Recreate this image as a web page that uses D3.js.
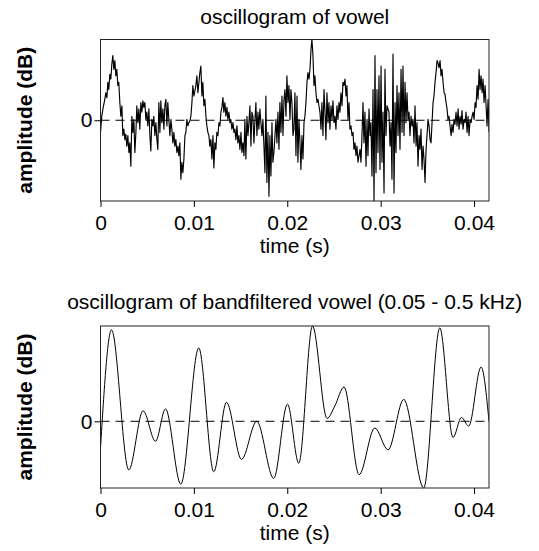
<!DOCTYPE html>
<html><head><meta charset="utf-8">
<script src="https://cdn.jsdelivr.net/npm/d3@7"></script>
<style>
html,body{margin:0;padding:0;background:#fff;}
svg{display:block;font-family:"Liberation Sans",Arial,sans-serif;}
</style></head><body>
<svg id="chart" width="539" height="551"></svg>
<script>
// ---------- data ----------
const xTicks = [0, 0.01, 0.02, 0.03, 0.04];
const xTickLabels = ["0", "0.01", "0.02", "0.03", "0.04"];
const yTicks = [0];
const yTickLabels = ["0"];
const panelTitles = ["oscillogram of vowel", "oscillogram of bandfiltered vowel (0.05 - 0.5 kHz)"];
const xAxisTitle = "time (s)";
const yAxisTitle = "amplitude (dB)";
const timeMax = 0.0416; // s

// raw oscillogram: [time (ms), relative amplitude]
const vowelSamples = [
[0.00,-15],[0.14,5],[0.29,16],[0.43,24],[0.57,34],[0.68,28],[0.79,47],[0.89,38],[1.00,57],[1.11,51],[1.21,69],[1.32,80],[1.43,63],[1.54,74],[1.64,55],[1.75,63],[1.86,43],[1.96,47],[2.07,22],[2.18,5],[2.29,18],[2.39,-19],[2.50,-11],[2.61,-24],[2.71,-17],[2.82,-32],[2.93,-19],[3.04,-40],[3.14,-28],[3.25,-57],[3.36,5],[3.46,-15],[3.57,1],[3.68,-40],[3.79,-15],[3.89,18],[4.00,-3],[4.11,14],[4.21,-11],[4.32,22],[4.43,10],[4.54,24],[4.64,16],[4.75,22],[4.86,1],[4.96,10],[5.07,-7],[5.18,14],[5.29,-19],[5.39,-38],[5.50,1],[5.61,-7],[5.71,5],[5.82,-19],[5.93,-3],[6.04,-24],[6.14,-36],[6.25,22],[6.36,-15],[6.46,24],[6.57,-3],[6.68,14],[6.79,-11],[6.89,18],[7.00,26],[7.11,-7],[7.21,22],[7.32,1],[7.43,-19],[7.54,1],[7.64,-11],[7.75,-28],[7.86,-15],[7.96,-32],[8.07,-24],[8.18,-40],[8.29,-32],[8.39,-44],[8.50,-28],[8.61,-73],[8.71,-52],[8.82,-65],[8.93,-48],[9.04,-19],[9.14,-15],[9.25,1],[9.36,-7],[9.46,-3],[9.57,-1],[9.68,5],[9.79,22],[9.89,43],[10.00,30],
[10.21,43],[10.32,55],[10.43,34],[10.54,47],[10.64,59],[10.75,67],[10.86,30],[10.96,47],[11.07,18],[11.18,26],[11.29,5],[11.39,-7],[11.50,-15],[11.61,-19],[11.71,-32],[11.82,-24],[11.93,-48],[12.04,-19],[12.14,-59],[12.25,-28],[12.36,-36],[12.46,-15],[12.57,-19],[12.68,-3],[12.79,-7],[12.89,10],[13.00,16],[13.11,28],[13.21,10],[13.32,22],[13.43,5],[13.54,16],[13.64,1],[13.75,10],[13.86,-3],[13.96,1],[14.07,-11],[14.18,-3],[14.29,-15],[14.39,-11],[14.50,-24],[14.61,-7],[14.71,-28],[14.82,-19],[14.93,-36],[15.04,-15],[15.14,-40],[15.25,-28],[15.36,-44],[15.46,1],[15.57,-48],[15.68,5],[15.79,-19],[15.89,-3],[16.00,18],[16.11,-32],[16.21,10],[16.32,5],[16.43,-28],[16.54,1],[16.64,22],[16.75,-19],[16.86,10],[16.96,-11],[17.07,14],[17.18,-3],[17.29,-19],[17.39,1],[17.50,-32],[17.61,-65],[17.71,30],[17.82,-77],[17.93,-15],[18.04,-94],[18.14,-19],[18.25,-69],[18.36,-3],[18.46,-52],[18.57,-40],[18.68,-19],[18.79,1],[18.89,-28],[19.00,10],[19.11,-36],[19.21,22],[19.32,-15],[19.43,30],[19.54,-19],[19.64,24],[19.75,38],[19.86,5],[19.96,55],[20.07,22],[20.18,43],[20.29,1],[20.39,38],
[20.50,22],[20.61,-19],[20.71,-11],[20.82,34],[20.93,-44],[21.04,30],[21.14,-52],[21.25,1],[21.36,-28],[21.46,-61],[21.57,-19],[21.68,-48],[21.79,-3],[21.89,5],[22.00,22],[22.11,47],[22.21,59],[22.32,51],[22.43,63],[22.54,88],[22.64,100],[22.75,80],[22.86,43],[22.96,55],[23.07,34],[23.18,22],[23.29,26],[23.39,18],[23.50,10],[23.61,-11],[23.71,22],[23.82,-19],[23.93,38],[24.04,10],[24.14,-24],[24.25,34],[24.36,-3],[24.46,22],[24.57,-11],[24.68,18],[24.79,1],[24.89,24],[25.00,-3],[25.11,5],[25.21,-11],[25.32,18],[25.43,1],[25.54,22],[25.64,10],[25.75,34],[25.86,18],[25.96,47],[26.07,43],[26.18,51],[26.29,30],[26.39,43],[26.50,1],[26.61,22],[26.71,-11],[26.82,-7],[26.93,-19],[27.04,-15],[27.14,-36],[27.25,-28],[27.36,-44],[27.46,-32],[27.57,-52],[27.68,-44],[27.79,-36],[27.89,-52],[28.00,-19],[28.11,22],[28.21,-28],[28.32,10],[28.43,-57],[28.54,1],[28.64,-44],[28.75,14],[28.86,-19],[28.96,-3],[29.07,-69],[29.18,38],[29.29,-100],[29.39,80],[29.50,-65],[29.61,38],[29.71,-40],[29.82,55],[29.93,-61],[30.04,67],[30.14,-52],[30.25,10],[30.36,-90],[30.46,63],[30.57,-19],[30.68,18],
[30.89,10],[31.00,-32],[31.11,-3],[31.21,-73],[31.32,82],[31.43,-90],[31.54,22],[31.64,-40],[31.75,43],[31.86,-19],[31.96,34],[32.07,-36],[32.18,63],[32.29,-15],[32.39,67],[32.50,-19],[32.61,47],[32.71,-3],[32.82,34],[32.93,1],[33.04,10],[33.14,-19],[33.25,5],[33.36,-7],[33.46,1],[33.57,-28],[33.68,18],[33.79,-32],[33.89,-3],[34.00,-57],[34.11,-19],[34.21,-36],[34.32,-11],[34.43,-61],[34.54,-32],[34.64,-48],[34.75,-77],[34.86,-36],[34.96,-19],[35.07,1],[35.18,-7],[35.29,-24],[35.39,-28],[35.50,-3],[35.61,22],[35.71,30],[35.82,47],[35.93,59],[36.04,74],[36.14,71],[36.25,65],[36.36,74],[36.46,55],[36.57,63],[36.68,47],[36.79,34],[36.89,32],[37.00,22],[37.11,14],[37.21,1],[37.32,5],[37.43,-7],[37.54,-19],[37.64,-5],[37.75,-15],[37.86,1],[37.96,-5],[38.07,10],[38.18,-7],[38.29,14],[38.39,-11],[38.50,5],[38.61,-5],[38.71,12],[38.82,-11],[38.93,1],[39.04,-3],[39.14,10],[39.25,-15],[39.36,5],[39.46,-19],[39.57,1],[39.68,-3],[39.79,5],[39.89,10],[40.00,1],[40.11,22],[40.21,16],[40.32,43],[40.43,26],[40.54,63],[40.64,38],[40.75,55],[40.86,34],[40.96,51],[41.07,22],[41.18,43],[41.29,18],[41.39,-7],[41.50,26],[41.61,-15]
];
const vowelRange = [-100, 100];

// band-filtered oscillogram: turning points [time (ms), relative amplitude]
const bandSamples = [
[0.00,-28],[1.18,96],[3.03,-51],[4.56,11],[5.89,-21],[6.96,13],[8.60,-66],[10.52,77],[12.13,-53],[13.49,20],[15.10,-40],[16.73,0],[18.55,-60],[20.02,18],[21.23,-44],[22.70,100],[24.26,3],[25.09,16],[26.08,36],[27.69,-56],[29.37,-7],[30.79,-30],[32.47,23],[34.61,-70],[36.33,98],[37.75,-17],[38.65,4],[39.43,-5],[40.75,57],[41.60,0]
];
const bandRange = [-70, 100];

// ---------- drawing ----------
const svg = d3.select("#chart");
const font = 21;
const L = 100.5, R = 489;

const panels = [
  {title: panelTitles[0], data: vowelSamples, range: vowelRange, top: 39.5, bottom: 201, titleY: 24, curve: d3.curveLinear, width: 1.15},
  {title: panelTitles[1], data: bandSamples, range: bandRange, top: 326, bottom: 488, titleY: 309, curve: d3.curveMonotoneX, width: 1}
];

panels.forEach((p, i) => {
  const g = svg.append("g");
  const x = d3.scaleLinear().domain([0, timeMax]).range([L, R]);
  const y = d3.scaleLinear().domain(p.range).range([p.bottom, p.top]);

  const clipId = "clip" + i;
  svg.append("clipPath").attr("id", clipId).append("rect")
    .attr("x", L).attr("y", p.top - 0.5).attr("width", R - L).attr("height", p.bottom - p.top + 1);

  // zero dashed line
  g.append("line")
    .attr("x1", L).attr("x2", R).attr("y1", y(0)).attr("y2", y(0))
    .attr("stroke", "#000").attr("stroke-width", 1).attr("stroke-dasharray", "9,6");

  // waveform
  const line = d3.line().x(d => x(d[0] / 1000)).y(d => y(d[1])).curve(p.curve);
  g.append("path").datum(p.data)
    .attr("clip-path", `url(#${clipId})`)
    .attr("fill", "none").attr("stroke", "#000").attr("stroke-width", p.width)
    .attr("stroke-linejoin", "round").attr("d", line);

  // box
  g.append("rect").attr("x", L).attr("y", p.top).attr("width", R - L).attr("height", p.bottom - p.top)
    .attr("fill", "none").attr("stroke", "#222").attr("stroke-width", 1);

  // x axis
  const xAxis = d3.axisBottom(x).tickValues(xTicks).tickSize(6).tickPadding(8)
    .tickFormat((d, k) => xTickLabels[k]);
  const gx = g.append("g").attr("transform", `translate(0,${p.bottom})`).call(xAxis);
  gx.select(".domain").remove();
  gx.selectAll("line").attr("stroke", "#000");
  gx.selectAll("text").attr("font-size", font).attr("fill", "#000")
    .attr("font-family", "Liberation Sans, Arial, sans-serif");

  // y axis (only 0)
  const yAxis = d3.axisLeft(y).tickValues(yTicks).tickSize(6).tickPadding(2)
    .tickFormat((d, k) => yTickLabels[k]);
  const gy = g.append("g").attr("transform", `translate(${L},0)`).call(yAxis);
  gy.select(".domain").remove();
  gy.selectAll("line").attr("stroke", "#000");
  gy.selectAll("text").attr("font-size", font).attr("fill", "#000")
    .attr("font-family", "Liberation Sans, Arial, sans-serif");

  // titles
  g.append("text").attr("x", (L + R) / 2).attr("y", p.titleY).attr("text-anchor", "middle")
    .attr("font-size", font).text(p.title);
  g.append("text").attr("x", (L + R) / 2).attr("y", p.bottom + 52).attr("text-anchor", "middle")
    .attr("font-size", font).text(xAxisTitle);
  g.append("text").attr("transform", `translate(32,${(p.top + p.bottom) / 2}) rotate(-90)`)
    .attr("text-anchor", "middle").attr("font-size", font).attr("font-weight", "bold").text(yAxisTitle);
});
</script>
</body></html>
